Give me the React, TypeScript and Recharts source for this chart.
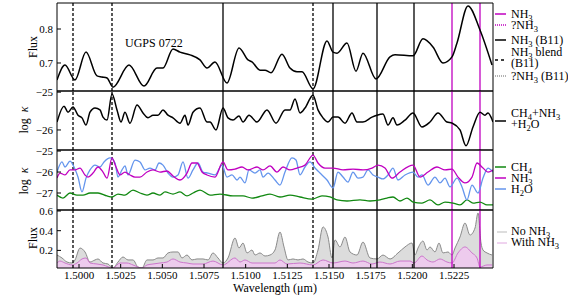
import React from 'react';
import { ComposedChart, Line, Area, XAxis, YAxis, ReferenceLine } from 'recharts';

// ---------- axes ----------
const xDomain: [number, number] = [1.49868, 1.52484];
const xTicks = [1.5, 1.5025, 1.505, 1.5075, 1.51, 1.5125, 1.515, 1.5175, 1.52, 1.5225];

const fluxTopDomain: [number, number] = [0.6176, 0.8765];
const fluxTopTicks = [0.7, 0.8];
const kappaTotDomain: [number, number] = [-26.53, -24.97];
const kappaTotTicks = [-26, -25];
const kappaMolDomain: [number, number] = [-27.81, -24.95];
const kappaMolTicks = [-27, -26, -25];
const fluxBotDomain: [number, number] = [0.0213, 0.61];
const fluxBotTicks = [0.2, 0.4, 0.6];

// ---------- line identifications (wavelength, micron) ----------
const nh3B11Solid = [1.50864, 1.51524, 1.51788, 1.5201];
const nh3B11Blend = [1.49964, 1.50198, 1.51404];
const nh3New = [1.52238, 1.52406];

// ---------- spectra: [wavelength, value] ----------
const obsFlux: [number, number][] = [
  [1.49868, 0.65], [1.49916, 0.694], [1.49976, 0.65], [1.50042, 0.732], [1.50108, 0.662], [1.50138, 0.659],
  [1.50168, 0.656], [1.50204, 0.629], [1.503, 0.694], [1.5039, 0.632], [1.50468, 0.685], [1.50504, 0.685],
  [1.50564, 0.741], [1.50606, 0.732], [1.50666, 0.724], [1.50726, 0.709], [1.50768, 0.685], [1.50816, 0.703],
  [1.50888, 0.641], [1.5096, 0.744], [1.51014, 0.709], [1.51038, 0.703], [1.51086, 0.679], [1.51116, 0.679],
  [1.51152, 0.671], [1.51218, 0.726], [1.51266, 0.685], [1.51308, 0.674], [1.51338, 0.674], [1.51404, 0.624],
  [1.51488, 0.765], [1.51524, 0.732], [1.51548, 0.729], [1.51608, 0.759], [1.51662, 0.676], [1.51704, 0.729],
  [1.51782, 0.653], [1.51866, 0.718], [1.51896, 0.724], [1.52004, 0.721], [1.52064, 0.771], [1.52124, 0.747],
  [1.52184, 0.7], [1.52238, 0.718], [1.52268, 0.759], [1.52334, 0.868], [1.52406, 0.797], [1.52478, 0.694],
];

const kappaTotal: [number, number][] = [
  [1.49868, -25.79], [1.4991, -25.37], [1.49934, -25.53], [1.49964, -25.39], [1.49994, -25.61], [1.50018, -25.68],
  [1.50042, -25.87], [1.50066, -25.53], [1.50096, -25.42], [1.50126, -25.47], [1.50144, -25.66], [1.50168, -25.74],
  [1.50198, -25.05], [1.50228, -25.47], [1.50252, -25.79], [1.50276, -25.53], [1.50306, -25.82], [1.50348, -25.34],
  [1.50384, -25.55], [1.50414, -25.68], [1.50444, -25.61], [1.50474, -25.61], [1.50504, -25.47], [1.50534, -25.61],
  [1.50564, -25.68], [1.50606, -25.82], [1.50636, -25.61], [1.50654, -25.87], [1.50684, -25.53], [1.50726, -25.42],
  [1.50768, -25.79], [1.50786, -25.79], [1.50822, -26.0], [1.50864, -25.42], [1.50894, -25.68], [1.50924, -25.74],
  [1.5096, -25.63], [1.50984, -25.79], [1.5102, -25.61], [1.51068, -25.79], [1.51128, -25.47], [1.51182, -25.82],
  [1.51236, -25.47], [1.51266, -25.47], [1.51296, -25.18], [1.51326, -25.55], [1.51356, -25.42], [1.51404, -25.08],
  [1.51434, -25.47], [1.51464, -25.68], [1.51494, -25.79], [1.51524, -25.66], [1.51554, -25.66], [1.51596, -25.82],
  [1.51638, -25.55], [1.51668, -25.79], [1.51704, -25.79], [1.51758, -25.66], [1.51788, -25.61], [1.51824, -25.58],
  [1.51854, -25.87], [1.51884, -25.68], [1.51908, -25.87], [1.51956, -25.74], [1.52004, -25.55], [1.52058, -25.92],
  [1.52106, -25.79], [1.52154, -25.55], [1.52208, -25.79], [1.52238, -25.82], [1.52286, -26.0], [1.52322, -26.42],
  [1.52364, -25.92], [1.52406, -25.53], [1.52436, -25.61], [1.52454, -25.55], [1.52484, -25.79],
];

const kappaCH4: [number, number][] = [
  [1.49868, -27.1], [1.49904, -27.24], [1.49946, -27.0], [1.49988, -27.1], [1.50024, -27.1], [1.50066, -27.0],
  [1.50114, -27.0], [1.50168, -27.14], [1.50198, -27.19], [1.50234, -27.05], [1.50276, -27.1], [1.50324, -26.86],
  [1.50366, -27.0], [1.50408, -27.1], [1.50444, -27.0], [1.50486, -27.1], [1.50516, -26.95], [1.50564, -27.05],
  [1.50606, -26.95], [1.50648, -27.14], [1.50684, -27.0], [1.50726, -26.86], [1.50786, -27.1], [1.50846, -27.05],
  [1.50924, -27.14], [1.50984, -27.14], [1.51038, -27.24], [1.51098, -27.14], [1.51146, -27.05], [1.51206, -27.19],
  [1.51266, -27.1], [1.51326, -27.19], [1.51398, -27.29], [1.51458, -27.14], [1.51506, -27.19], [1.51548, -27.33],
  [1.51608, -27.38], [1.51686, -27.33], [1.51746, -27.38], [1.51806, -27.33], [1.51848, -27.24], [1.51884, -27.19],
  [1.51926, -27.38], [1.51968, -27.24], [1.52004, -27.43], [1.52058, -27.48], [1.52106, -27.33], [1.52154, -27.57],
  [1.52196, -27.43], [1.52244, -27.48], [1.52286, -27.57], [1.52328, -27.33], [1.52364, -27.48], [1.52406, -27.43],
  [1.52448, -27.57], [1.52484, -27.57],
];

const kappaNH3: [number, number][] = [
  [1.49868, -26.29], [1.49886, -26.05], [1.49916, -26.14], [1.49946, -25.9], [1.49976, -25.9], [1.50006, -25.81],
  [1.50036, -26.14], [1.50054, -26.24], [1.50084, -26.05], [1.50114, -25.76], [1.50144, -26.0], [1.50168, -26.29],
  [1.50198, -25.33], [1.50222, -25.76], [1.50246, -26.14], [1.50276, -26.0], [1.50306, -26.14], [1.50336, -26.24],
  [1.50366, -26.24], [1.50408, -26.0], [1.50444, -25.9], [1.50486, -26.0], [1.50528, -25.95], [1.50564, -26.19],
  [1.50606, -26.38], [1.50648, -26.05], [1.50678, -25.57], [1.50708, -25.57], [1.50738, -26.0], [1.50768, -26.14],
  [1.50816, -26.24], [1.50864, -25.52], [1.50894, -25.9], [1.50936, -25.86], [1.50978, -25.76], [1.51014, -25.9],
  [1.51068, -25.76], [1.51104, -25.9], [1.51146, -25.71], [1.51188, -26.0], [1.51224, -25.76], [1.51266, -25.9],
  [1.51308, -25.81], [1.51356, -25.67], [1.51404, -25.19], [1.51434, -25.57], [1.51476, -25.81], [1.51524, -25.81],
  [1.51584, -25.9], [1.51644, -25.86], [1.51704, -25.9], [1.51758, -25.81], [1.51794, -25.67], [1.51836, -25.81],
  [1.51878, -26.29], [1.51926, -26.0], [1.52004, -25.67], [1.52046, -26.24], [1.52094, -26.0], [1.52148, -25.76],
  [1.52196, -25.9], [1.52238, -25.86], [1.52274, -26.24], [1.52316, -26.52], [1.52358, -26.24], [1.52388, -25.57],
  [1.52424, -25.81], [1.52454, -26.0], [1.52484, -25.9],
];

const kappaH2O: [number, number][] = [
  [1.49868, -26.0], [1.49898, -25.52], [1.49916, -25.76], [1.49946, -25.48], [1.4997, -25.76], [1.49994, -26.24],
  [1.50018, -26.95], [1.50042, -26.29], [1.50066, -25.9], [1.50096, -25.67], [1.50126, -25.76], [1.5015, -25.52],
  [1.50186, -25.33], [1.50216, -25.57], [1.50234, -26.24], [1.50258, -25.9], [1.50276, -25.71], [1.50294, -26.14],
  [1.50336, -25.43], [1.50366, -25.52], [1.50396, -25.9], [1.50426, -25.81], [1.50456, -25.9], [1.5048, -25.57],
  [1.50504, -25.67], [1.50534, -26.05], [1.50564, -26.24], [1.50594, -26.14], [1.50624, -25.52], [1.50654, -26.29],
  [1.50684, -25.9], [1.50714, -25.57], [1.50744, -26.0], [1.50774, -26.05], [1.50816, -26.14], [1.50858, -25.67],
  [1.50888, -26.24], [1.50918, -26.14], [1.50948, -26.38], [1.50966, -26.24], [1.50996, -26.52], [1.5102, -25.9],
  [1.51056, -26.05], [1.51086, -25.9], [1.51104, -26.24], [1.51134, -26.05], [1.51176, -26.38], [1.51206, -26.62],
  [1.51236, -26.0], [1.51278, -25.33], [1.51302, -25.43], [1.51326, -26.14], [1.51356, -25.76], [1.51386, -25.52],
  [1.51416, -25.81], [1.51446, -26.05], [1.51488, -26.38], [1.51524, -26.76], [1.51554, -26.0], [1.51584, -26.24],
  [1.51614, -26.48], [1.51644, -26.0], [1.51674, -26.29], [1.51704, -26.24], [1.51734, -25.9], [1.51764, -26.14],
  [1.51794, -26.24], [1.51824, -26.33], [1.51854, -26.14], [1.51884, -25.81], [1.51914, -26.38], [1.51956, -26.14],
  [1.52004, -26.0], [1.52034, -26.24], [1.52058, -26.14], [1.52094, -26.62], [1.52136, -26.24], [1.52166, -26.52],
  [1.52196, -26.29], [1.52226, -26.71], [1.52268, -26.29], [1.52298, -26.71], [1.52328, -27.33], [1.52358, -26.62],
  [1.52394, -27.0], [1.52424, -26.29], [1.52454, -25.81], [1.52484, -26.0],
];

const residNoNH3: [number, number][] = [
  [1.49868, 0.153], [1.49898, 0.123], [1.49928, 0.082], [1.49958, 0.072], [1.49976, 0.103], [1.50006, 0.224],
  [1.50036, 0.184], [1.50066, 0.082], [1.50096, 0.103], [1.50114, 0.113], [1.50144, 0.072], [1.50174, 0.062],
  [1.50204, 0.021], [1.50234, 0.082], [1.50264, 0.133], [1.50294, 0.103], [1.50324, 0.103], [1.50354, 0.031],
  [1.50378, 0.021], [1.50408, 0.103], [1.50444, 0.103], [1.50474, 0.123], [1.50504, 0.123], [1.50534, 0.174],
  [1.50564, 0.184], [1.50594, 0.184], [1.50618, 0.123], [1.50648, 0.153], [1.50678, 0.103], [1.50708, 0.113],
  [1.50744, 0.113], [1.50774, 0.103], [1.50804, 0.174], [1.50834, 0.123], [1.50864, 0.072], [1.50894, 0.123],
  [1.50936, 0.326], [1.5096, 0.224], [1.50984, 0.275], [1.51008, 0.174], [1.51038, 0.204], [1.51056, 0.153],
  [1.51086, 0.174], [1.51116, 0.143], [1.51146, 0.153], [1.51176, 0.204], [1.51206, 0.387], [1.5123, 0.235],
  [1.51254, 0.103], [1.51284, 0.113], [1.51314, 0.103], [1.51344, 0.113], [1.51374, 0.082], [1.51404, 0.072],
  [1.51434, 0.204], [1.51464, 0.438], [1.51494, 0.336], [1.51518, 0.123], [1.51536, 0.306], [1.51566, 0.235],
  [1.51596, 0.336], [1.51626, 0.184], [1.51668, 0.153], [1.51704, 0.285], [1.51746, 0.123], [1.51788, 0.113],
  [1.51824, 0.153], [1.51866, 0.113], [1.51914, 0.174], [1.51956, 0.235], [1.51998, 0.275], [1.52016, 0.153],
  [1.52034, 0.224], [1.52064, 0.295], [1.52088, 0.204], [1.52106, 0.235], [1.52136, 0.184], [1.5216, 0.275],
  [1.52184, 0.174], [1.52214, 0.184], [1.52238, 0.153], [1.52256, 0.224], [1.52286, 0.336], [1.52316, 0.478],
  [1.52346, 0.356], [1.52376, 0.427], [1.52394, 0.58], [1.52412, 0.275], [1.52424, 0.204], [1.52448, 0.174],
  [1.52478, 0.153],
];

const residWithNH3: [number, number][] = [
  [1.49868, 0.072], [1.49886, 0.092], [1.49916, 0.072], [1.49958, 0.052], [1.49988, 0.072], [1.50018, 0.113],
  [1.50042, 0.123], [1.50066, 0.072], [1.50108, 0.062], [1.50144, 0.052], [1.50204, 0.021], [1.50246, 0.072],
  [1.50288, 0.072], [1.50324, 0.052], [1.50378, 0.021], [1.50408, 0.052], [1.50444, 0.062], [1.50486, 0.072],
  [1.50528, 0.082], [1.50564, 0.113], [1.50606, 0.082], [1.50648, 0.072], [1.50684, 0.062], [1.50744, 0.062],
  [1.50804, 0.092], [1.50864, 0.052], [1.50936, 0.123], [1.50966, 0.082], [1.50996, 0.103], [1.51038, 0.072],
  [1.51104, 0.072], [1.51176, 0.072], [1.51206, 0.103], [1.51248, 0.062], [1.51326, 0.072], [1.51404, 0.052],
  [1.51464, 0.103], [1.51524, 0.072], [1.51596, 0.092], [1.51644, 0.072], [1.51704, 0.092], [1.51758, 0.062],
  [1.51806, 0.082], [1.51866, 0.062], [1.51926, 0.092], [1.51986, 0.092], [1.5201, 0.072], [1.52058, 0.143],
  [1.52088, 0.103], [1.52124, 0.082], [1.52166, 0.113], [1.52208, 0.082], [1.52238, 0.072], [1.52274, 0.174],
  [1.52316, 0.235], [1.52358, 0.174], [1.52388, 0.123], [1.52406, 0.031], [1.52448, 0.052], [1.52478, 0.052],
];

// ---------- styling ----------
const FONT = "'Liberation Serif', 'Times New Roman', serif";
const MAGENTA = '#c000c0';
const BLUE = '#6495ed';
const GREEN = '#118811';
const W = 568;
const H = 295;

const toRows = (p: [number, number][]) => p.map(([w, v]) => ({ w, v }));
const minusFmt = (v: number) => (v < 0 ? '\u2212' + Math.abs(v) : String(v));
const oneDec = (v: number) => v.toFixed(1);

function frameAxes(yDomain: [number, number], yTicks: number[], fmt: (v: number) => string, bottomLabels: boolean) {
  return [
    <XAxis
      key="xb"
      xAxisId="b"
      type="number"
      dataKey="w"
      domain={xDomain}
      allowDataOverflow
      ticks={xTicks}
      orientation="bottom"
      height={bottomLabels ? 27 : 1}
      tickSize={-4}
      tickMargin={7}
      tick={bottomLabels ? { fontFamily: FONT, fontSize: 11, fill: '#000' } : false}
      tickFormatter={(v: number) => v.toFixed(4)}
      stroke="#000"
      interval={0}
    />,
    <XAxis
      key="xt"
      xAxisId="t"
      type="number"
      dataKey="w"
      domain={xDomain}
      allowDataOverflow
      ticks={xTicks}
      orientation="top"
      height={1}
      tickSize={-4}
      tick={false}
      stroke="#000"
      interval={0}
    />,
    <YAxis
      key="yl"
      yAxisId="l"
      type="number"
      domain={yDomain}
      allowDataOverflow
      ticks={yTicks}
      width={30}
      tickSize={-4}
      tickMargin={8}
      tickFormatter={fmt}
      tick={{ fontFamily: FONT, fontSize: 11, fill: '#000' }}
      stroke="#000"
      interval={0}
    />,
    <YAxis
      key="yr"
      yAxisId="r"
      type="number"
      orientation="right"
      domain={yDomain}
      allowDataOverflow
      ticks={yTicks}
      width={1}
      tickSize={-4}
      tick={false}
      stroke="#000"
      interval={0}
    />,
  ];
}

function refLines() {
  const common = { xAxisId: 'b', yAxisId: 'l', strokeWidth: 1.3 } as const;
  return [
    ...nh3B11Blend.map((x) => <ReferenceLine key={'d' + x} {...common} x={x} stroke="#000" strokeDasharray="3 2" />),
    ...nh3B11Solid.map((x) => <ReferenceLine key={'s' + x} {...common} x={x} stroke="#000" />),
    ...nh3New.map((x) => <ReferenceLine key={'m' + x} {...common} x={x} stroke={MAGENTA} />),
  ];
}

function margins(top: number, bottom: number, bottomAxisH: number) {
  return { top: top - 1, bottom: H - bottom - bottomAxisH, left: 27, right: 74 };
}

const layer: React.CSSProperties = { position: 'absolute', left: 0, top: 0 };

function Sub({ c }: { c: string }) {
  return (
    <tspan fontSize={8.5} dy={3}>
      {c}
    </tspan>
  );
}

export default function App() {
  return (
    <div style={{ position: 'absolute', left: 0, top: 0, width: W, height: H, background: '#fff' }}>
      {/* Panel 1: observed flux */}
      <div style={layer}>
        <ComposedChart width={W} height={H} margin={margins(3, 91, 1)}>
          {frameAxes(fluxTopDomain, fluxTopTicks, oneDec, false)}
          {refLines()}
          <Line xAxisId="b" yAxisId="l" data={toRows(obsFlux)} dataKey="v" type="monotone" dot={false}
            stroke="#000" strokeWidth={1.5} isAnimationActive={false} />
        </ComposedChart>
      </div>
      {/* Panel 2: total opacity */}
      <div style={layer}>
        <ComposedChart width={W} height={H} margin={margins(91, 150, 1)}>
          {frameAxes(kappaTotDomain, kappaTotTicks, minusFmt, false)}
          {refLines()}
          <Line xAxisId="b" yAxisId="l" data={toRows(kappaTotal)} dataKey="v" type="monotone" dot={false}
            stroke="#000" strokeWidth={1.5} isAnimationActive={false} />
        </ComposedChart>
      </div>
      {/* Panel 3: molecular opacities */}
      <div style={layer}>
        <ComposedChart width={W} height={H} margin={margins(150, 210, 1)}>
          {frameAxes(kappaMolDomain, kappaMolTicks, minusFmt, false)}
          {refLines()}
          <Line xAxisId="b" yAxisId="l" data={toRows(kappaCH4)} dataKey="v" type="monotone" dot={false}
            stroke={GREEN} strokeWidth={1.3} isAnimationActive={false} />
          <Line xAxisId="b" yAxisId="l" data={toRows(kappaH2O)} dataKey="v" type="monotone" dot={false}
            stroke={BLUE} strokeWidth={1.3} isAnimationActive={false} />
          <Line xAxisId="b" yAxisId="l" data={toRows(kappaNH3)} dataKey="v" type="monotone" dot={false}
            stroke={MAGENTA} strokeWidth={1.3} isAnimationActive={false} />
        </ComposedChart>
      </div>
      {/* Panel 4: residual flux */}
      <div style={layer}>
        <ComposedChart width={W} height={H} margin={margins(210, 268, 27)}>
          {frameAxes(fluxBotDomain, fluxBotTicks, oneDec, true)}
          <Area xAxisId="b" yAxisId="l" data={toRows(residNoNH3)} dataKey="v" type="monotone"
            stroke="#8a8a8a" strokeWidth={1} fill="#dcdcdc" fillOpacity={1} isAnimationActive={false} />
          <Area xAxisId="b" yAxisId="l" data={toRows(residWithNH3)} dataKey="v" type="monotone"
            stroke="#cc77cc" strokeWidth={1} fill="#edcbed" fillOpacity={1} isAnimationActive={false} />
          {refLines()}
        </ComposedChart>
      </div>

      {/* text overlay: titles and legends */}
      <svg width={W} height={H} style={{ ...layer, pointerEvents: 'none' }} fontFamily={FONT} fill="#000">
        <text x={125} y={47} fontSize={12}>UGPS 0722</text>

        <text transform="translate(37,47) rotate(-90)" textAnchor="middle" fontSize={12}>Flux</text>
        <text transform="translate(28,120) rotate(-90)" textAnchor="middle" fontSize={12} style={{ whiteSpace: 'pre' }}>
          log  <tspan fontStyle="italic">κ</tspan>
        </text>
        <text transform="translate(28,181) rotate(-90)" textAnchor="middle" fontSize={12} style={{ whiteSpace: 'pre' }}>
          log  <tspan fontStyle="italic">κ</tspan>
        </text>
        <text transform="translate(37,238) rotate(-90)" textAnchor="middle" fontSize={12}>Flux</text>

        <text x={275} y={292} textAnchor="middle" fontSize={12}>Wavelength (μm)</text>

        {/* legend 1 */}
        <g fontSize={12} style={{ whiteSpace: 'pre' }}>
          <line x1={495} x2={506} y1={14} y2={14} stroke={MAGENTA} strokeWidth={1.5} />
          <text x={511} y={18}>NH<Sub c="3" /></text>
          <line x1={495} x2={506} y1={25} y2={25} stroke={MAGENTA} strokeWidth={1.3} strokeDasharray="1 1" />
          <text x={511} y={29}>?NH<Sub c="3" /></text>
          <line x1={495} x2={506} y1={40} y2={40} stroke="#000" strokeWidth={1.5} />
          <text x={511} y={44}>NH<Sub c="3" /><tspan dy={-3}> (B11)</tspan></text>
          <text x={511} y={56}>NH<Sub c="3" /><tspan dy={-3}> blend</tspan></text>
          <line x1={495} x2={506} y1={60} y2={60} stroke="#000" strokeWidth={1.5} strokeDasharray="3 3" />
          <text x={511} y={67}>(B11)</text>
          <line x1={495} x2={506} y1={76} y2={76} stroke="#666" strokeWidth={1.2} strokeDasharray="1 1" />
          <text x={511} y={80}>?NH<Sub c="3" /><tspan dy={-3}> (B11)</tspan></text>
        </g>

        {/* legend 2 */}
        <g fontSize={12}>
          <line x1={495} x2={506} y1={121} y2={121} stroke="#000" strokeWidth={1.5} />
          <text x={511} y={117}>CH<Sub c="4" /><tspan dy={-3}>+NH</tspan><Sub c="3" /></text>
          <text x={511} y={128}>+H<Sub c="2" /><tspan dy={-3}>O</tspan></text>
        </g>

        {/* legend 3 */}
        <g fontSize={12}>
          <line x1={495} x2={506} y1={167} y2={167} stroke={GREEN} strokeWidth={1.5} />
          <text x={511} y={171}>CH<Sub c="4" /></text>
          <line x1={495} x2={506} y1={178} y2={178} stroke={MAGENTA} strokeWidth={1.5} />
          <text x={511} y={182}>NH<Sub c="3" /></text>
          <line x1={495} x2={506} y1={189} y2={189} stroke={BLUE} strokeWidth={1.5} />
          <text x={511} y={193}>H<Sub c="2" /><tspan dy={-3}>O</tspan></text>
        </g>

        {/* legend 4 */}
        <g fontSize={12} style={{ whiteSpace: 'pre' }}>
          <line x1={497} x2={507} y1={232} y2={232} stroke="#bbbbbb" strokeWidth={1} />
          <text x={511} y={235}>No NH<Sub c="3" /></text>
          <line x1={497} x2={507} y1={243} y2={243} stroke="#e0a8e0" strokeWidth={1} />
          <text x={511} y={246}>With NH<Sub c="3" /></text>
        </g>
      </svg>
    </div>
  );
}
